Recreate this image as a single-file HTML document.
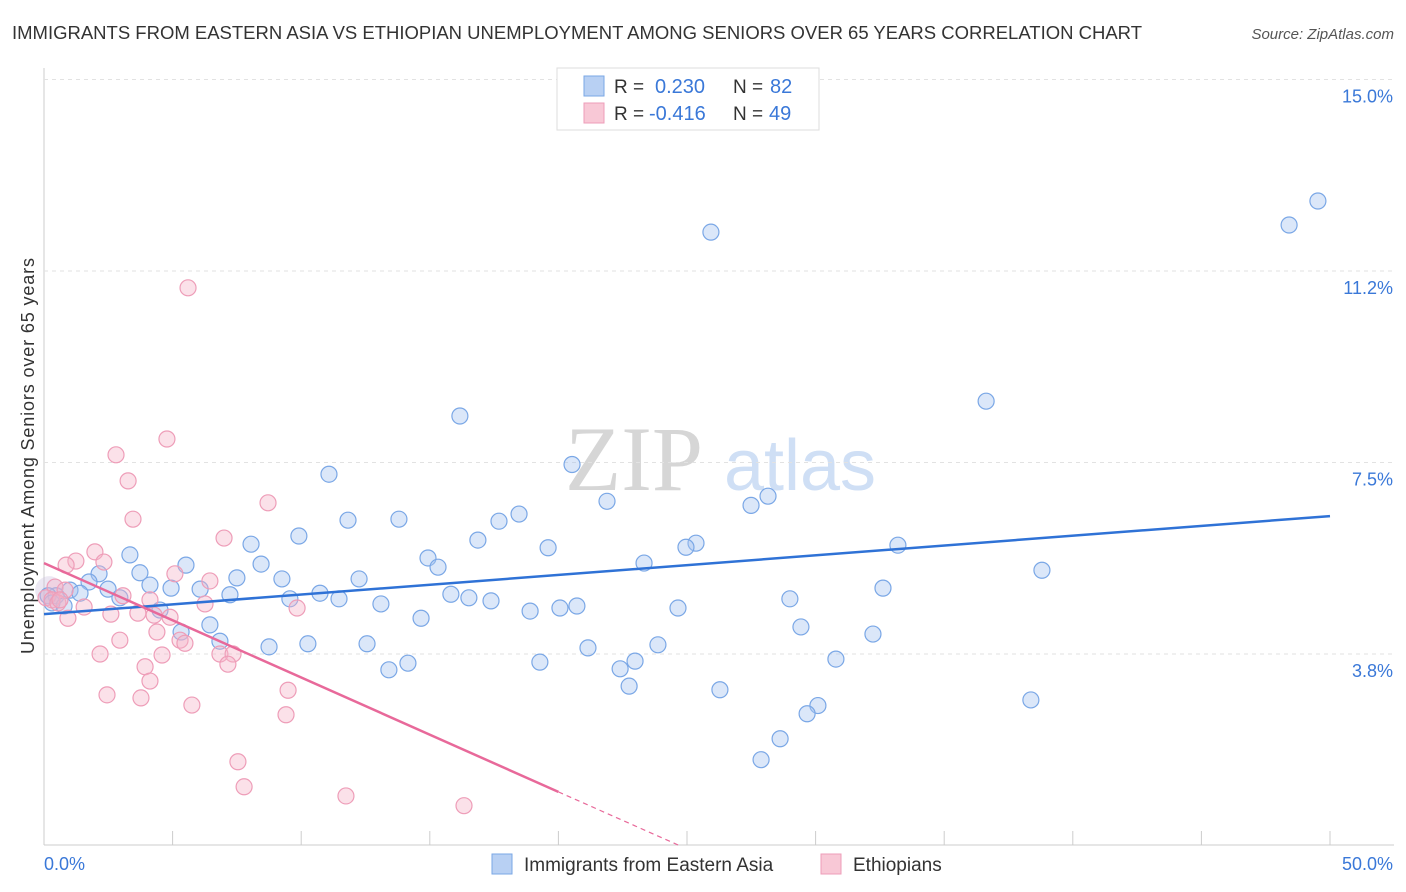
<!DOCTYPE html>
<html><head><meta charset="utf-8"><style>
body{margin:0;background:#fff;font-family:"Liberation Sans",sans-serif;}
#c{position:relative;width:1406px;height:892px;overflow:hidden}
</style></head><body>
<div id="c">
<svg id="s" width="1406" height="892" xmlns="http://www.w3.org/2000/svg">
<text x="12" y="39" font-size="18.5" fill="#333" textLength="1130">IMMIGRANTS FROM EASTERN ASIA VS ETHIOPIAN UNEMPLOYMENT AMONG SENIORS OVER 65 YEARS CORRELATION CHART</text>
<text x="1394" y="39" font-size="15" fill="#555" font-style="italic" text-anchor="end">Source: ZipAtlas.com</text>
<text x="634" y="490" font-size="92" fill="#d6d6d6" font-family="Liberation Serif" text-anchor="middle">ZIP</text>
<text x="800" y="490" font-size="72" fill="#cfdff5" text-anchor="middle">atlas</text>
<text transform="translate(34,456) rotate(-90)" font-size="18" fill="#333" text-anchor="middle" textLength="396">Unemployment Among Seniors over 65 years</text>
<g id="grid"></g><g id="ticks"></g><g id="pts"></g><g id="lines"></g>
<g>
<rect x="557" y="68" width="262" height="62" fill="#fff" stroke="#ddd"/>
<rect x="584" y="76" width="20" height="20" fill="#b8d0f3" stroke="#7aa7e6"/>
<rect x="584" y="103" width="20" height="20" fill="#f8c8d6" stroke="#ee9db8"/>
<text x="614" y="93" font-size="19" fill="#333">R =</text>
<text x="655" y="93" font-size="20" fill="#3a78d8">0.230</text>
<text x="733" y="93" font-size="19" fill="#333">N =</text>
<text x="770" y="93" font-size="20" fill="#3a78d8">82</text>
<text x="614" y="120" font-size="19" fill="#333">R =</text>
<text x="649" y="120" font-size="20" fill="#3a78d8">-0.416</text>
<text x="733" y="120" font-size="19" fill="#333">N =</text>
<text x="769" y="120" font-size="20" fill="#3a78d8">49</text>
</g>
<g>
<rect x="492" y="854" width="20" height="20" fill="#b8d0f3" stroke="#7aa7e6"/>
<text x="524" y="871" font-size="19" fill="#333">Immigrants from Eastern Asia</text>
<rect x="821" y="854" width="20" height="20" fill="#f8c8d6" stroke="#ee9db8"/>
<text x="853" y="871" font-size="19" fill="#333">Ethiopians</text>
</g>
<text x="44" y="870" font-size="18" fill="#3a78d8">0.0%</text>
<text x="1393" y="870" font-size="18" fill="#3a78d8" text-anchor="end">50.0%</text>
</svg>
</div>
<script>
const blueX=[49.53,48.41,25.93,36.63,16.17,20.53,11.08,28.15,21.89,27.49,18.47,17.69,11.82,13.80,9.91,16.87,19.60,25.35,24.96,33.20,8.05,3.34,5.52,14.93,15.32,23.33,38.80,3.73,8.44,2.14,7.50,12.25,9.25,1.75,4.12,2.49,4.94,6.07,7.23,32.62,1.01,1.40,0.47,9.56,10.73,11.47,15.82,16.52,17.38,2.95,4.51,13.10,20.72,20.06,18.90,24.65,29.00,14.66,6.45,29.43,5.33,32.23,6.84,8.75,10.26,12.56,23.87,21.15,14.15,13.41,19.28,22.98,22.40,30.79,22.75,26.28,38.37,30.09,29.67,28.62,27.88,0.16,0.31,0.78];
const blueY=[12.62,12.15,12.01,8.70,8.41,7.46,7.27,6.84,6.74,6.66,6.49,6.35,6.37,6.39,6.06,5.98,5.83,5.92,5.84,5.88,5.90,5.69,5.49,5.63,5.45,5.53,5.39,5.34,5.51,5.32,5.24,5.22,5.22,5.16,5.10,5.02,5.04,5.02,4.91,5.04,5.00,4.94,4.89,4.83,4.94,4.83,4.92,4.85,4.79,4.85,4.61,4.73,4.69,4.65,4.59,4.65,4.83,4.45,4.32,4.28,4.18,4.14,4.00,3.89,3.95,3.95,3.93,3.87,3.57,3.44,3.59,3.61,3.46,3.65,3.12,3.05,2.85,2.74,2.58,2.09,1.68,4.89,4.75,4.69];
const pinkX=[5.60,4.78,2.80,3.27,8.71,3.46,7.00,1.98,1.24,2.33,0.86,5.09,6.45,0.43,0.82,0.08,0.31,0.54,1.56,3.07,4.12,6.26,9.84,2.60,3.65,4.28,0.93,4.90,5.29,5.48,2.95,4.39,2.18,4.59,6.84,7.35,7.15,3.93,4.12,9.49,2.45,3.77,5.75,9.41,7.54,7.78,11.74,16.33,0.62];
const pinkY=[10.92,7.96,7.65,7.14,6.71,6.39,6.02,5.75,5.57,5.55,5.49,5.32,5.18,5.06,5.00,4.85,4.81,4.75,4.67,4.89,4.81,4.73,4.65,4.53,4.55,4.51,4.45,4.47,4.02,3.96,4.02,4.18,3.75,3.73,3.75,3.75,3.55,3.50,3.22,3.04,2.95,2.89,2.75,2.56,1.64,1.15,0.97,0.78,4.81];
const yTicks=[15.0,11.25,7.5,3.75];
const yTickLabels=["15.0%","11.2%","7.5%","3.8%"];
const xTicks=[0,5,10,15,20,25,30,35,40,45,50];
const blueTrend=[[0,4.53],[50,6.45]];
const pinkTrend=[[0,5.53],[20,1.05]];
const pinkDash=[[20,1.05],[24.7,0]];
const NS="http://www.w3.org/2000/svg";
const X=v=>44+v*25.72, Y=v=>845.5-v*51.07;
function mk(t,a,p){const e=document.createElementNS(NS,t);for(const k in a)e.setAttribute(k,a[k]);p.appendChild(e);return e;}
const grid=document.getElementById('grid'),ticks=document.getElementById('ticks'),pts=document.getElementById('pts'),lines=document.getElementById('lines');
mk('line',{x1:44,y1:68,x2:44,y2:845,stroke:'#ccc'},grid);
mk('line',{x1:44,y1:845,x2:1394,y2:845,stroke:'#ccc'},grid);
yTicks.forEach((v,i)=>{
 const l=mk('line',{x1:44,y1:Y(v),x2:1394,y2:Y(v),stroke:'#e2e2e2','stroke-dasharray':'4,4'},grid);
 
 
 const t=mk('text',{x:1393,y:Y(v)+23,'font-size':18,fill:'#3a78d8','text-anchor':'end'},ticks);
 t.textContent=yTickLabels[i];
 
 
});
xTicks.forEach(v=>{
 const l=mk('line',{x1:X(v),y1:831,x2:X(v),y2:845,stroke:'#ccc'},ticks);
 
 
});
mk('circle',{cx:X(0.2),cy:Y(5.0),r:14,fill:'rgba(200,190,220,0.35)',stroke:'none'},pts);
blueX.forEach((v,i)=>{
 const c=mk('circle',{cx:X(v),cy:Y(blueY[i]),r:8,fill:'rgba(164,196,240,0.4)',stroke:'#7aa7e6','stroke-width':1.2},pts);
 
 
});
pinkX.forEach((v,i)=>{
 const c=mk('circle',{cx:X(v),cy:Y(pinkY[i]),r:8,fill:'rgba(244,180,200,0.4)',stroke:'#ee9db8','stroke-width':1.2},pts);
 
 
});
const bl=mk('line',{x1:X(blueTrend[0][0]),y1:Y(blueTrend[0][1]),x2:X(blueTrend[1][0]),y2:Y(blueTrend[1][1]),stroke:'#2f72d6','stroke-width':2.5},lines);


const pl=mk('line',{x1:X(pinkTrend[0][0]),y1:Y(pinkTrend[0][1]),x2:X(pinkTrend[1][0]),y2:Y(pinkTrend[1][1]),stroke:'#e8699a','stroke-width':2.5},lines);


const pd=mk('line',{x1:X(pinkDash[0][0]),y1:Y(pinkDash[0][1]),x2:X(pinkDash[1][0]),y2:Y(pinkDash[1][1]),stroke:'#e8699a','stroke-width':1.2,'stroke-dasharray':'5,4'},lines);


</script>
</body></html>
